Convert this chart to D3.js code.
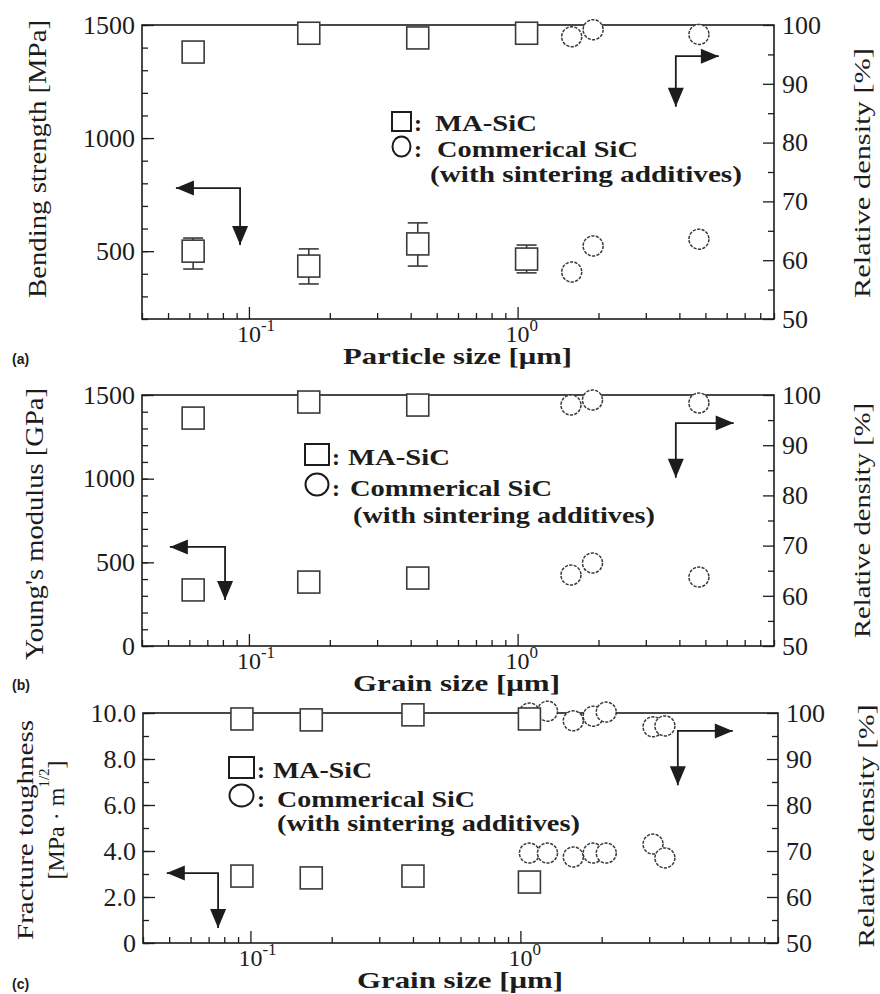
<!DOCTYPE html>
<html>
<head>
<meta charset="utf-8">
<script src="https://d3js.org/d3.v7.min.js"></script>
<style>
  body { margin: 0; background: #fff; }
  svg text { font-family: "Liberation Serif", "Times New Roman", serif; fill: #1c1c1c; }
  .tick line { stroke: #1c1c1c; stroke-width: 1.3; }
</style>
</head>
<body>
<svg width="880" height="994"></svg>
<script>
// ---- panel (a): particle size vs bending strength / relative density
var maSizeA      = [0.062, 0.167, 0.425, 1.08];
var maStrength   = [500, 434, 532, 465];
var maStrengthLo = [421, 355, 434, 404];
var maStrengthHi = [558, 510, 625, 527];
var maDensityA   = [95.4, 98.6, 97.8, 98.6];
var comSizeA     = [1.59, 1.91, 4.73];
var comStrength  = [408, 523, 553];
var comDensityA  = [98.0, 99.2, 98.4];

// ---- panel (b): grain size vs Young's modulus / relative density
var maSizeB     = [0.062, 0.167, 0.425];
var maModulus   = [335, 382, 406];
var maDensityB  = [95.4, 98.6, 98.0];
var comSizeB    = [1.58, 1.90, 4.73];
var comModulus  = [424, 496, 412];
var comDensityB = [98.0, 99.0, 98.4];

// ---- panel (c): grain size vs fracture toughness / relative density
var maSizeC      = [0.093, 0.168, 0.40, 1.08];
var maToughness  = [2.91, 2.83, 2.91, 2.65];
var maDensityC   = [98.7, 98.5, 99.6, 98.7];
var comSizeC     = [1.08, 1.26, 1.57, 1.86, 2.08, 3.10, 3.43];
var comToughness = [3.91, 3.91, 3.74, 3.91, 3.91, 4.30, 3.70];
var comDensityC  = [100.0, 100.4, 98.3, 99.3, 100.2, 97.0, 97.2];

// ---- tick labels
var xTickLabels   = [[0.1, "10", "-1"], [1, "10", "0"]];
var densityTicks  = [50, 60, 70, 80, 90, 100];
var strengthTicks = [500, 1000, 1500];
var modulusTicks  = [0, 500, 1000, 1500];
var toughTicks    = [0, 2, 4, 6, 8, 10];

var legendLines = ["MA-SiC", "Commerical SiC", "(with sintering additives)"];

var serif = "'Liberation Serif', 'Times New Roman', serif";
var ink = "#1c1c1c", markInk = "#3a3a3a";
var svg = d3.select("svg");

// minor ticks of the log axis
var xMinor = [];
[0.01, 0.1, 1].forEach(function(dec) {
  for (var k = 2; k <= 9; k++) {
    var v = +(k * dec).toPrecision(3);
    if (v >= 0.04 && v <= 9) xMinor.push(v);
  }
});

function rotText(g, x, y, str, size, len, weight) {
  return g.append("text")
    .attr("transform", "translate(" + x + "," + y + ") rotate(-90)")
    .attr("text-anchor", "middle")
    .attr("textLength", len).attr("lengthAdjust", "spacingAndGlyphs")
    .style("font-family", serif)
    .style("font-size", size + "px")
    .style("font-weight", weight || "normal")
    .text(str);
}

function styleTicks(s) {
  s.select(".domain").remove();
  s.attr("font-family", null).attr("font-size", null);
  s.selectAll("text").style("font-family", serif).style("font-size", "26px").attr("fill", ink);
}

function drawPanel(c) {
  var x  = d3.scaleLog().domain([0.04, 9]).range([c.left, c.right]);
  var yL = d3.scaleLinear().domain(c.yDomain).range([c.bottom, c.top]);
  var yR = d3.scaleLinear().domain([50, 100]).range([c.bottom, c.top]);
  var g = svg.append("g");

  // bottom axis: inward ticks
  g.append("g").attr("transform", "translate(0," + c.bottom + ")")
    .call(d3.axisBottom(x).tickValues(xMinor).tickSize(-6).tickFormat(""))
    .call(styleTicks);
  g.append("g").attr("transform", "translate(0," + c.bottom + ")")
    .call(d3.axisBottom(x).tickValues([0.1, 1]).tickSize(-12).tickFormat(""))
    .call(styleTicks);
  g.selectAll(".xl").data(xTickLabels).enter().append("text")
    .attr("x", function(d) { return x(d[0]) - 12; })
    .attr("y", c.bottom + 23)
    .style("font-family", serif)
    .style("font-size", "24px")
    .each(function(d) {
      var t = d3.select(this);
      t.append("tspan").text(d[1]);
      t.append("tspan").attr("dy", -11).style("font-size", "17px").text(d[2]);
    });

  // left axis
  g.append("g").attr("transform", "translate(" + c.left + ",0)")
    .call(d3.axisLeft(yL).tickValues(d3.range(c.yDomain[0], c.yDomain[1] + 1e-9, c.yMinorStep)).tickSize(-6).tickFormat(""))
    .call(styleTicks);
  g.append("g").attr("transform", "translate(" + c.left + ",0)")
    .call(d3.axisLeft(yL).tickValues(c.yTicks).tickSize(-12).tickPadding(7).tickFormat(c.yFormat))
    .call(styleTicks);

  // right axis: relative density
  g.append("g").attr("transform", "translate(" + c.right + ",0)")
    .call(d3.axisRight(yR).tickValues(d3.range(55, 100, 10)).tickSize(-6).tickFormat(""))
    .call(styleTicks);
  g.append("g").attr("transform", "translate(" + c.right + ",0)")
    .call(d3.axisRight(yR).tickValues(densityTicks).tickSize(-11).tickPadding(8))
    .call(styleTicks);

  // frame
  g.append("rect")
    .attr("x", c.left).attr("y", c.top)
    .attr("width", c.right - c.left).attr("height", c.bottom - c.top)
    .attr("fill", "none").attr("stroke", ink).attr("stroke-width", 1.6);

  // arrows (annotation, in data units)
  c.arrows.forEach(function(a) {
    var ys = a.side == "left" ? yL : yR;
    var cx = x(a.corner[0]), cy = ys(a.corner[1]);
    var hx = x(a.tipX), vy = ys(a.tipY);
    g.append("path")
      .attr("d", "M" + hx + "," + cy + "H" + cx + "V" + vy)
      .attr("fill", "none").attr("stroke", ink).attr("stroke-width", 1.8);
    var dir = hx < cx ? 1 : -1;
    g.append("path")
      .attr("d", "M" + hx + "," + cy + "L" + (hx + dir * 18) + "," + (cy - 7.5) + "L" + (hx + dir * 18) + "," + (cy + 7.5) + "Z")
      .attr("fill", ink);
    g.append("path")
      .attr("d", "M" + cx + "," + vy + "L" + (cx - 8) + "," + (vy - 19) + "L" + (cx + 8) + "," + (vy - 19) + "Z")
      .attr("fill", ink);
  });

  // error bars
  if (c.ma.lo) {
    var eb = g.selectAll(".eb").data(c.ma.x).enter().append("g");
    eb.append("line")
      .attr("x1", function(d) { return x(d); }).attr("x2", function(d) { return x(d); })
      .attr("y1", function(d, i) { return yL(c.ma.lo[i]); })
      .attr("y2", function(d, i) { return yL(c.ma.hi[i]); });
    eb.append("line")
      .attr("x1", function(d) { return x(d) - 10; }).attr("x2", function(d) { return x(d) + 10; })
      .attr("y1", function(d, i) { return yL(c.ma.lo[i]); })
      .attr("y2", function(d, i) { return yL(c.ma.lo[i]); });
    eb.append("line")
      .attr("x1", function(d) { return x(d) - 10; }).attr("x2", function(d) { return x(d) + 10; })
      .attr("y1", function(d, i) { return yL(c.ma.hi[i]); })
      .attr("y2", function(d, i) { return yL(c.ma.hi[i]); });
    eb.selectAll("line").attr("stroke", markInk).attr("stroke-width", 1.6);
  }

  // commercial SiC: circles
  [[c.com.y, yL], [c.com.d, yR]].forEach(function(pair) {
    g.selectAll(null).data(c.com.x).enter().append("circle")
      .attr("cx", function(d) { return x(d); })
      .attr("cy", function(d, i) { return pair[1](pair[0][i]); })
      .attr("r", 10)
      .attr("fill", "#fff").attr("stroke", markInk)
      .attr("stroke-width", 1.5).attr("stroke-dasharray", "3.2 1.3");
  });

  // MA-SiC: squares
  [[c.ma.y, yL], [c.ma.d, yR]].forEach(function(pair) {
    g.selectAll(null).data(c.ma.x).enter().append("rect")
      .attr("x", function(d) { return x(d) - 11; })
      .attr("y", function(d, i) { return pair[1](pair[0][i]) - 11; })
      .attr("width", 22).attr("height", 22)
      .attr("fill", "#fff").attr("stroke", markInk).attr("stroke-width", 1.6);
  });

  // legend
  var L = c.legend;
  g.append("rect").attr("x", L.gx).attr("y", L.rows[0] - L.sh)
    .attr("width", L.sw).attr("height", L.sh)
    .attr("fill", "none").attr("stroke", ink).attr("stroke-width", 2);
  g.append("ellipse").attr("cx", L.gx + L.sw / 2).attr("cy", L.rows[1] - L.sh / 2 - 1)
    .attr("rx", L.sw / 2 - 0.5).attr("ry", L.sh / 2 + 0.5)
    .attr("fill", "none").attr("stroke", ink).attr("stroke-width", 2);
  [0, 1].forEach(function(i) {
    g.append("text").attr("x", L.gx + L.sw + 3).attr("y", L.rows[i])
      .style("font-family", serif)
      .style("font-size", "24px").style("font-weight", "bold").text(":");
  });
  legendLines.forEach(function(s, i) {
    g.append("text").attr("x", L.tx[i]).attr("y", L.rows[i])
      .attr("textLength", L.len[i]).attr("lengthAdjust", "spacingAndGlyphs")
      .style("font-family", serif)
      .style("font-size", "24px").style("font-weight", "bold").text(s);
  });

  // axis titles
  c.yTitle(g);
  rotText(g, c.rtx, (c.top + c.bottom) / 2 + c.rdy, "Relative density  [%]", 24, c.rlen);
  g.append("text").attr("x", c.xt[0]).attr("y", c.xt[1])
    .attr("textLength", c.xt[2]).attr("lengthAdjust", "spacingAndGlyphs")
    .style("font-family", serif)
    .style("font-size", "23px").style("font-weight", "bold")
    .text(c.xTitle);
  g.append("text").attr("x", 12).attr("y", c.labelY)
    .style("font-family", "'Liberation Sans', Arial, sans-serif")
    .style("font-size", "14px").style("font-weight", "bold")
    .text(c.label);
}

drawPanel({
  left: 142, right: 774, top: 25, bottom: 319,
  yDomain: [200, 1500], yMinorStep: 100, yTicks: strengthTicks, yFormat: d3.format("d"),
  ma: { x: maSizeA, y: maStrength, d: maDensityA, lo: maStrengthLo, hi: maStrengthHi },
  com: { x: comSizeA, y: comStrength, d: comDensityA },
  arrows: [
    { side: "left", corner: [0.0927, 779], tipX: 0.0535, tipY: 527 },
    { side: "right", corner: [3.88, 94.7], tipX: 5.61, tipY: 86.1 }
  ],
  legend: { gx: 392, sw: 19, sh: 19, rows: [131, 157, 182], tx: [435, 437, 430], len: [102, 201, 312] },
  yTitle: function(g) { rotText(g, 46, 159, "Bending strength [MPa]", 26, 278); },
  rtx: 870, rdy: 1, rlen: 250,
  xTitle: "Particle size  [\u03bcm]", xt: [343, 364, 229],
  label: "(a)", labelY: 364
});

drawPanel({
  left: 142, right: 774, top: 395, bottom: 646,
  yDomain: [0, 1500], yMinorStep: 100, yTicks: modulusTicks, yFormat: d3.format("d"),
  ma: { x: maSizeB, y: maModulus, d: maDensityB },
  com: { x: comSizeB, y: comModulus, d: comDensityB },
  arrows: [
    { side: "left", corner: [0.0815, 592], tipX: 0.0508, tipY: 275 },
    { side: "right", corner: [3.88, 94.4], tipX: 6.37, tipY: 83.5 }
  ],
  legend: { gx: 305, sw: 24, sh: 21, rows: [465, 496, 523], tx: [348, 350, 353], len: [102, 202, 302] },
  yTitle: function(g) { rotText(g, 43, 524, "Young's modulus [GPa]", 26, 272); },
  rtx: 870, rdy: 0, rlen: 235,
  xTitle: "Grain size  [\u03bcm]", xt: [353, 691, 207],
  label: "(b)", labelY: 690
});

drawPanel({
  left: 143, right: 778, top: 713, bottom: 943,
  yDomain: [0, 10], yMinorStep: 1, yTicks: toughTicks,
  yFormat: function(d) { return d == 0 ? "0" : d3.format(".1f")(d); },
  ma: { x: maSizeC, y: maToughness, d: maDensityC },
  com: { x: comSizeC, y: comToughness, d: comDensityC },
  arrows: [
    { side: "left", corner: [0.0759, 3.04], tipX: 0.049, tipY: 0.65 },
    { side: "right", corner: [3.83, 96.1], tipX: 6.12, tipY: 84.3 }
  ],
  legend: { gx: 229, sw: 25, sh: 21, rows: [778, 807, 831], tx: [273, 277, 277], len: [99, 198, 303] },
  yTitle: function(g) {
    rotText(g, 33, 830, "Fracture toughness", 24, 220);
    var t = g.append("text")
      .attr("transform", "translate(64,820) rotate(-90)")
      .attr("text-anchor", "middle")
      .style("font-family", serif)
      .style("font-size", "24px");
    t.append("tspan").text("[MPa \u00b7 m");
    t.append("tspan").attr("dy", -15).style("font-size", "15px").text("1/2");
    t.append("tspan").attr("dy", 15).text("]");
  },
  rtx: 874, rdy: -2, rlen: 243,
  xTitle: "Grain size  [\u03bcm]", xt: [357, 988, 206],
  label: "(c)", labelY: 989
});
</script>
</body>
</html>
